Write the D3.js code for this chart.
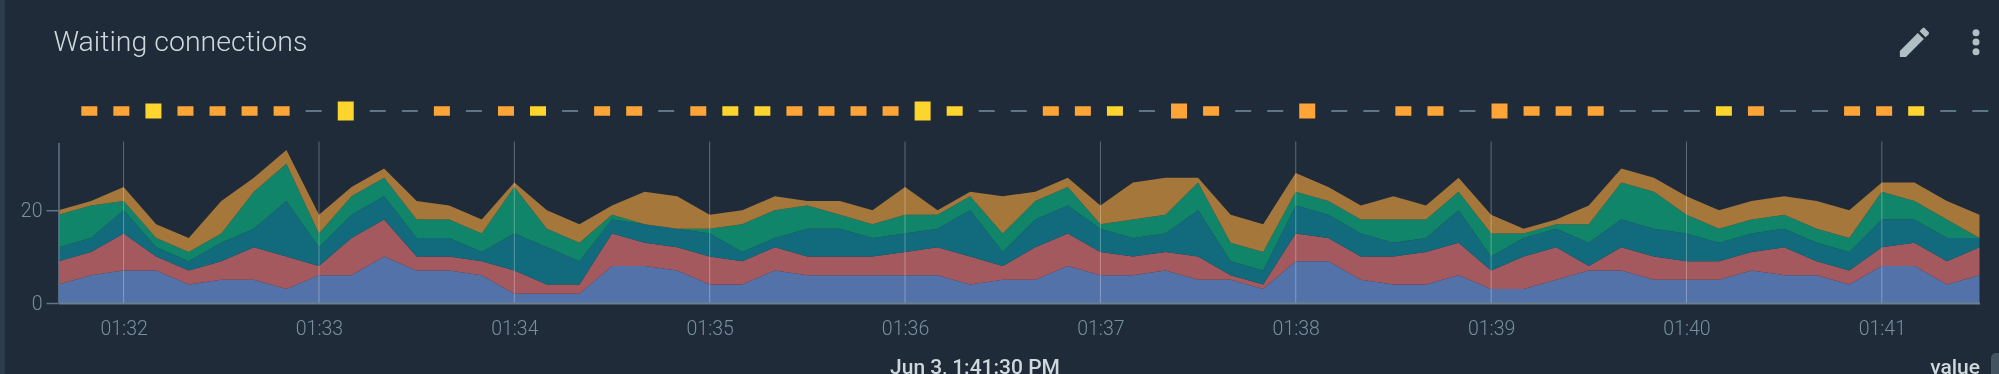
<!DOCTYPE html>
<html>
<head>
<meta charset="utf-8">
<script src="https://cdn.jsdelivr.net/npm/d3@7"></script>
<style>
    html, body { margin: 0; padding: 0; background: #1f2b38; overflow: hidden; }
    svg { display: block; filter: blur(0.5px); }
    text { font-family: Roboto, sans-serif; }
</style>
</head>
<body>
<svg id="chart" width="1999" height="374"></svg>
<script>
const seriesNames = ['s1', 's2', 's3', 's4', 's5'];
const seriesColors = ['#5272a9', '#a3595e', '#126b7d', '#118569', '#a5773a'];

const s1 = [4,6,7,7,4,5,5,3,6,6, 10,7,7,6,2,2,2,8,8,7, 4,4,7,6,6,6,6,6,4,5, 5,8,6,6,7,5,5,3,9,9, 5,4,4,6,3,3,5,7,7,5, 5,5,7,6,6,4,8,8,4,6];
const s2 = [5,5,8,3,3,4,7,7,2,8, 8,3,3,3,5,2,2,7,5,5, 6,5,5,4,4,4,5,6,6,3, 7,7,5,4,4,5,1,1,6,5, 5,6,7,7,4,7,7,1,5,5, 4,4,4,6,3,3,4,5,5,6];
const s3 = [3,3,5,2,2,4,4,12,4,5, 5,4,4,2,8,8,5,3,4,4, 5,2,2,6,6,4,4,4,10,3, 6,6,5,4,4,10,3,3,6,5, 5,3,3,7,3,4,4,5,6,6, 6,4,4,4,4,4,6,5,5,2];
const s4 = [7,7,2,2,2,2,8,8,3,4, 4,4,4,4,10,4,4,1,0,0, 1,6,6,5,3,3,4,3,3,4, 4,4,1,4,4,6,4,4,3,3, 3,5,4,4,5,1,1,4,8,8, 4,3,3,3,3,3,6,4,4,0];
const s5 = [1,1,3,3,3,7,3,3,4,2, 2,4,3,3,1,4,4,2,7,7, 3,3,3,1,3,3,6,1,1,8, 2,2,4,8,8,1,6,6,4,3, 3,5,3,3,4,1,1,4,3,3, 4,4,4,4,6,6,2,4,4,5];

// status strip: n = none, o = orange, y = yellow
const statusKind = 'ooyoooonynnonoynoonoyyoooo' + 'yynnooyno' + 'onnonnoonoooonnnyonnooynn';
const statusLevel = [1,1,2,1,1,1,1,0,3,0, 0,1,0,1,1,0,1,1,0,1, 1,1,1,1,1,1,3,1,0,0, 1,1,1,0,2,1,0,0,2,0, 0,1,1,0,2,1,1,1,0,0, 0,1,1,0,0,1,1,1,0,0];

const times = d3.utcSecond.range(Date.UTC(2019, 5, 3, 1, 31, 40), Date.UTC(2019, 5, 3, 1, 41, 31), 10);
const yTicks = [0, 20];

const svg = d3.select('#chart');

const x = d3.scaleUtc().domain(d3.extent(times)).range([58.5, 1979.5]);
const y = d3.scaleLinear().domain([0, 34.6]).range([303, 142.5]);

// left edge of the page behind the panel
svg.append('rect').attr('x', 0).attr('y', 0).attr('width', 5).attr('height', 374).attr('fill', '#2b3d4d');

svg.append('text')
    .attr('x', 53.5)
    .attr('y', 51)
    .attr('font-size', 28.5)
    .attr('font-weight', 300)
    .attr('fill', '#cfd8dc')
    .text('Waiting connections');

// pencil + menu icons
svg.append('path')
    .attr('transform', 'translate(1895,23) scale(1.62)')
    .attr('fill', '#b0bec5')
    .attr('d', 'M3 17.25V21h3.75L17.81 9.94l-3.75-3.75L3 17.25zM20.71 7.04c.39-.39.39-1.02 0-1.41l-2.34-2.34c-.39-.39-1.02-.39-1.41 0l-1.83 1.83 3.75 3.75 1.83-1.83z');
svg.selectAll('.dot')
    .data([32.7, 42, 51.7])
    .enter().append('circle')
    .attr('class', 'dot')
    .attr('cx', 1976)
    .attr('cy', d => d)
    .attr('r', 3.5)
    .attr('fill', '#b0bec5');

// status strip
const strip = d3.scaleBand().domain(d3.range(times.length)).range([73.3, 1996.3]);
const stripHeight = d3.scaleOrdinal().domain([0, 1, 2, 3]).range([2, 9.5, 15, 19]);
const stripColor = d3.scaleOrdinal().domain(['n', 'o', 'y']).range(['#5f7684', '#ffa436', '#fdd52e']);

svg.append('g').selectAll('rect')
    .data(statusLevel)
    .enter().append('rect')
    .attr('x', (d, i) => strip(i) + strip.bandwidth() / 2 - 8)
    .attr('y', d => 111 - stripHeight(d) / 2)
    .attr('width', 16)
    .attr('height', d => stripHeight(d))
    .attr('fill', (d, i) => stripColor(statusKind[i]));

// stacked areas
const rows = times.map((t, i) => ({ t, s1: s1[i], s2: s2[i], s3: s3[i], s4: s4[i], s5: s5[i] }));
const stacked = d3.stack().keys(seriesNames)(rows);
const area = d3.area()
    .x(d => x(d.data.t))
    .y0(d => y(d[0]))
    .y1(d => y(d[1]));

svg.append('g').selectAll('path')
    .data(stacked)
    .enter().append('path')
    .attr('d', area)
    .attr('fill', (d, i) => seriesColors[i]);

// minute grid
const minutes = d3.utcMinute.range(times[0], times[times.length - 1]);
svg.append('g').selectAll('line')
    .data(minutes)
    .enter().append('line')
    .attr('x1', d => x(d))
    .attr('x2', d => x(d))
    .attr('y1', 141.5)
    .attr('y2', 303)
    .attr('stroke', '#fff')
    .attr('stroke-opacity', 0.3)
    .attr('stroke-width', 1);

const xAxis = d3.axisBottom(x)
    .tickValues(minutes)
    .tickFormat(d3.utcFormat('%H:%M'))
    .tickSize(0)
    .tickPadding(18);
const xG = svg.append('g').attr('transform', 'translate(0,303)').call(xAxis);
xG.select('.domain').attr('stroke', '#6b818e').attr('stroke-width', 2);
xG.selectAll('text')
    .attr('font-family', 'Roboto, sans-serif')
    .attr('font-size', 19.5)
    .attr('font-weight', 300)
    .attr('fill', '#78909c');

const yAxis = d3.axisLeft(y)
    .tickValues(yTicks)
    .tickSize(12)
    .tickPadding(4)
    .tickSizeOuter(0);
const yG = svg.append('g').attr('transform', 'translate(58.5,0)').call(yAxis);
yG.select('.domain').attr('stroke', '#5f7684').attr('stroke-width', 1.5);
yG.selectAll('line').attr('stroke', '#5f7684').attr('stroke-width', 1.5);
yG.selectAll('text')
    .attr('font-family', 'Roboto, sans-serif')
    .attr('font-size', 19.5)
    .attr('font-weight', 300)
    .attr('fill', '#78909c');

// footer, cut off by the window
svg.append('text')
    .attr('x', 975)
    .attr('y', 374)
    .attr('text-anchor', 'middle')
    .attr('font-size', 21)
    .attr('font-weight', 500)
    .attr('fill', '#cfd8dc')
    .text('Jun 3, 1:41:30 PM');
svg.append('text')
    .attr('x', 1980)
    .attr('y', 374)
    .attr('text-anchor', 'end')
    .attr('font-size', 21)
    .attr('font-weight', 500)
    .attr('fill', '#cfd8dc')
    .text('value');
svg.append('rect')
    .attr('x', 1991).attr('y', 353)
    .attr('width', 20).attr('height', 40)
    .attr('rx', 5)
    .attr('fill', '#43535f');
</script>
</body>
</html>
